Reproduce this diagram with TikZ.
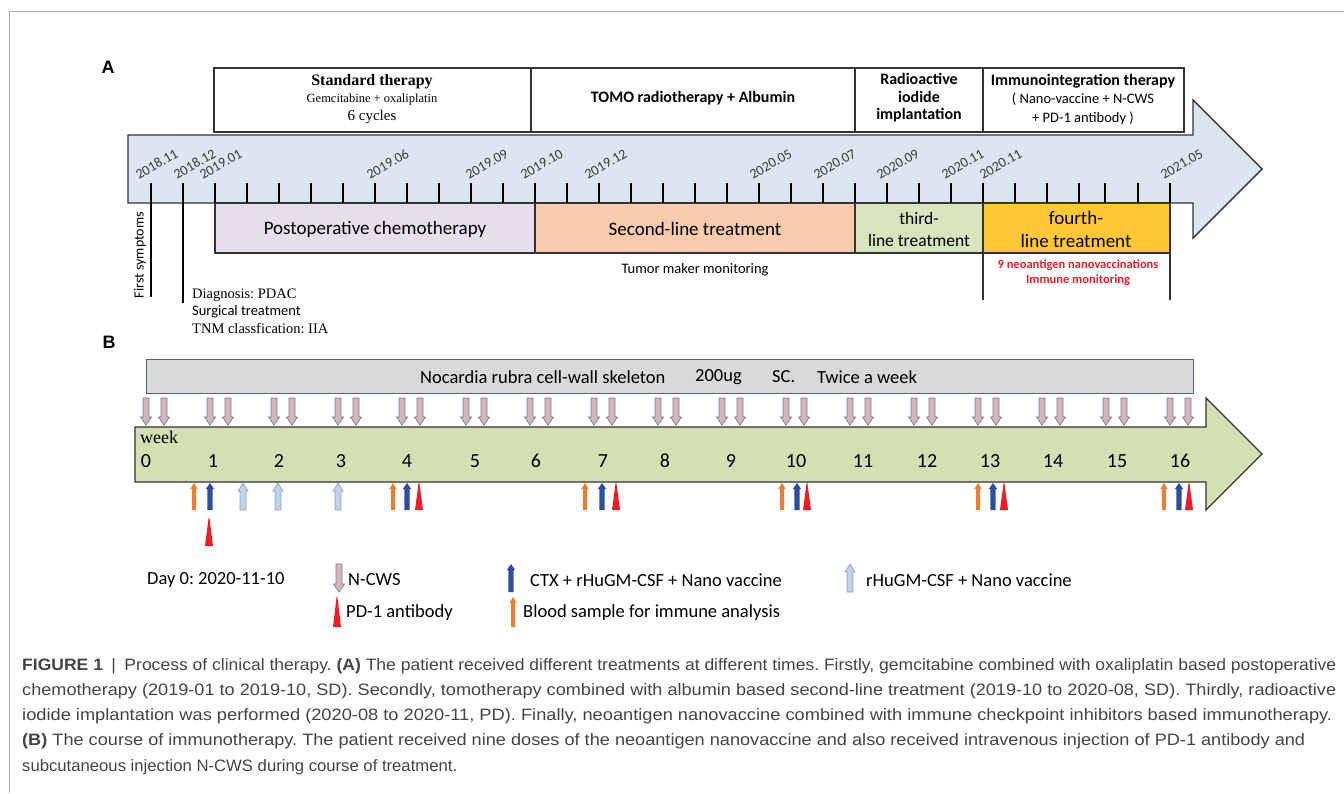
\documentclass[tikz,border=0pt]{standalone}
\usepackage{fontspec}
\usepackage{graphicx}
\setmainfont{Carlito}
\newfontfamily\tnr{Liberation Serif}
\newfontfamily\ari{Liberation Sans}
\newfontfamily\capf[FakeStretch=0.82]{Liberation Sans}
\newcommand\fsz[2]{\fontsize{#1}{#2}\selectfont}
\definecolor{tlblue}{HTML}{DCE6F1}
\definecolor{lav}{HTML}{E5DFEC}
\definecolor{peach}{HTML}{F8CBAD}
\definecolor{thirdg}{HTML}{D7E4BD}
\definecolor{gold}{HTML}{FFC936}
\definecolor{weekg}{HTML}{D4DFB4}
\definecolor{ncgray}{HTML}{D9D9D9}
\definecolor{ncedge}{HTML}{51627A}
\definecolor{cwsfill}{HTML}{D5B6BA}
\definecolor{cwsedge}{HTML}{6A7FA0}
\definecolor{lbfill}{HTML}{C0D3EA}
\definecolor{lbedge}{HTML}{8EA2BC}
\definecolor{orng}{HTML}{ED7D31}
\definecolor{dblue}{HTML}{2F4D9C}
\definecolor{pdred}{HTML}{EE1C25}
\definecolor{dgray}{HTML}{3A3A3A}
\definecolor{capgray}{HTML}{444444}
\definecolor{edge}{HTML}{333333}
% block arrows: style, x, tail y, tip y, shaft half, head half, head length
\newcommand\dnblk[7]{\draw[#1] (#2-#5,#3) -- (#2+#5,#3) -- (#2+#5,#4-#7) -- (#2+#6,#4-#7) -- (#2,#4) -- (#2-#6,#4-#7) -- (#2-#5,#4-#7) -- cycle;}
\newcommand\upblk[7]{\draw[#1] (#2-#5,#3) -- (#2+#5,#3) -- (#2+#5,#4+#7) -- (#2+#6,#4+#7) -- (#2,#4) -- (#2-#6,#4+#7) -- (#2-#5,#4+#7) -- cycle;}
\newcommand\redtri[3]{\fill[pdred] (#1-4,#2) -- (#1+4,#2) -- (#1+0.4,#3) -- (#1-0.4,#3) -- cycle;}
\tikzset{
  topbox/.style={draw=edge, line width=1.3pt, fill=white},
  band/.style={draw=edge, line width=1.1pt},
  tick/.style={draw=black, line width=1.4pt},
  datelbl/.style={rotate=30, anchor=south west, inner sep=0pt, font=\fsz{14}{16}, text=dgray},
  plain/.style={inner sep=0pt, align=center},
  cws/.style={fill=cwsfill, draw=cwsedge, line width=0.7pt},
  lbarr/.style={fill=lbfill, draw=lbedge, line width=0.7pt},
  orarr/.style={fill=orng, draw=none},
  blarr/.style={fill=dblue, draw=none},
  capline/.style={anchor=west, inner sep=0pt, font=\capf\fsz{16.5}{19}, text=capgray},
}
\begin{document}
\frenchspacing
\begin{tikzpicture}[x=1pt,y=-1pt]
\useasboundingbox (0,0) rectangle (1344,793);
\fill[white] (0,0) rectangle (1344,793);
\draw[color=black!32, line width=0.9pt] (9,793) -- (9,11) -- (1344,11);

% ---------------- Panel A ----------------
\node[plain, font=\ari\bfseries\fsz{18}{20}] (lblA) at (108,67) {A};

% timeline arrow
\draw[fill=tlblue, draw=edge, line width=1.4pt] (128,135) -- (1193,135) -- (1193,100) -- (1262,169) -- (1193,238) -- (1193,203) -- (128,203) -- cycle;

% top boxes
\draw[topbox] (214,68) rectangle (531,132);
\draw[topbox] (531,68) rectangle (855,132);
\draw[topbox] (855,68) rectangle (983,132);
\draw[topbox] (983,68) rectangle (1184,132);
\node[plain, font=\tnr\bfseries\fsz{16}{18}] (std1) at (372,82) {Standard therapy};
\node[plain, font=\tnr\fsz{12.5}{14}] (std2) at (372,99) {Gemcitabine + oxaliplatin};
\node[plain, font=\tnr\fsz{15}{17}] (std3) at (372,117) {6 cycles};
\node[plain, font=\bfseries\fsz{16}{18}] (tomo) at (693,98) {TOMO radiotherapy + Albumin};
\node[plain, font=\bfseries\fsz{16}{17.5}] (radio) at (919,98) {Radioactive\\iodide\\implantation};
\node[plain, font=\bfseries\fsz{16}{18}] (imm1) at (1083,81) {Immunointegration therapy};
\node[plain, font=\fsz{14.5}{16}] (imm2) at (1083,99) {( Nano-vaccine + N-CWS};
\node[plain, font=\fsz{14.5}{16}] (imm3) at (1083,118) {+ PD-1 antibody )};

% bands
\draw[band, fill=lav] (215,203) rectangle (535,253);
\draw[band, fill=peach] (535,203) rectangle (855,253);
\draw[band, fill=thirdg] (855,203) rectangle (983,253);
\draw[band, fill=gold] (983,203) rectangle (1170,253);
\node[plain, font=\fsz{19}{21}] (b1) at (375,229) {Postoperative chemotherapy};
\node[plain, font=\fsz{19}{21}] (b2) at (695,229) {Second-line treatment};
\node[plain, font=\fsz{17.5}{22.5}] (b3) at (919,229.5) {third-\\line treatment};
\node[plain, font=\fsz{19}{23}] (b4) at (1076,229.5) {fourth-\\line treatment};

% ticks
\foreach \x in {151,183,215,247,279,311,343,375,407,439,471,503,535,567,599,631,663,695,727,759,791,823,855,887,919,951,983,1015,1047,1079,1105,1138,1170}
  \draw[tick] (\x,183) -- (\x,203);
\foreach \x/\t in {139/2018.11,177/2018.12,203/2019.01,370/2019.06,469/2019.09,524/2019.10,588/2019.12,753/2020.05,817/2020.07,880/2020.09,945/2020.11,983/2020.11,1164/2021.05}
  \node[datelbl] (dl\x) at (\x,180) {\t};

% event lines
\coordinate (fsTop) at (151,183);
\coordinate (fsBot) at (151,297);
\coordinate (dgTop) at (183,183);
\coordinate (dgBot) at (183,303);
\draw[tick] (fsTop) -- (fsBot);
\draw[tick] (dgTop) -- (dgBot);
\coordinate (f4a) at (983,253);
\coordinate (f4b) at (983,300);
\coordinate (f4c) at (1170,253);
\coordinate (f4d) at (1170,300);
\draw[band] (f4a) -- (f4b);
\draw[band] (f4c) -- (f4d);

\node[plain, rotate=90, font=\fsz{14}{16}] (firstsym) at (140,255) {First symptoms};
\node[anchor=west, inner sep=0pt, font=\tnr\fsz{14.5}{16}] (diag1) at (192,295) {Diagnosis: PDAC};
\node[anchor=west, inner sep=0pt, font=\fsz{14.5}{16}] (diag2) at (192,312) {Surgical treatment};
\node[anchor=west, inner sep=0pt, font=\tnr\fsz{14.5}{16}] (diag3) at (192,328) {TNM classfication: IIA};
\node[plain, font=\fsz{14.5}{16}] (tumor) at (695,270) {Tumor maker monitoring};
\node[plain, font=\bfseries\fsz{12.5}{15}, text=pdred] (red1) at (1078,265) {9 neoantigen nanovaccinations};
\node[plain, font=\bfseries\fsz{12.5}{15}, text=pdred] (red2) at (1078,280) {Immune monitoring};

% ---------------- Panel B ----------------
\node[plain, font=\ari\bfseries\fsz{18}{20}] (lblB) at (109,342) {B};
\draw[fill=ncgray, draw=ncedge, line width=1pt] (146,359) rectangle (1193,393);
\node[anchor=west, inner sep=0pt, font=\fsz{18.5}{20}] (nc1) at (420,377) {Nocardia rubra cell-wall skeleton};
\node[anchor=west, inner sep=0pt, font=\fsz{18.5}{20}] (nc2) at (695,377) {200ug};
\node[anchor=west, inner sep=0pt, font=\fsz{18.5}{20}] (nc3) at (772,377) {SC.};
\node[anchor=west, inner sep=0pt, font=\fsz{18.5}{20}] (nc4) at (817,377) {Twice a week};

% week arrow
\draw[fill=weekg, draw=edge, line width=1.3pt] (135,427) -- (1206,427) -- (1206,398) -- (1262,454) -- (1206,510) -- (1206,482) -- (135,482) -- cycle;
\node[anchor=west, inner sep=0pt, font=\tnr\fsz{18}{20}] (week) at (140,437) {week};
\foreach \x/\n in {146/0,213/1,279/2,341/3,407/4,475/5,536/6,603/7,665/8,731/9,796/10,863/11,927/12,990/13,1053/14,1117/15,1180/16}
  \node[plain, font=\fsz{20}{22}] (w\n) at (\x,461) {\n};

% N-CWS arrows
\foreach \x in {146,210,274,338,402,466,530,594,658,722,786,850,914,978,1042,1106,1170}{
  \dnblk{cws}{\x}{398}{425}{3}{5.5}{8}
  \dnblk{cws}{\x+18}{398}{425}{3}{5.5}{8}
}

% treatment arrows below
\foreach \o/\b in {194/210,393/407,585/602,782/797,978/993,1164/1179}{
  \upblk{orarr}{\o}{510}{483}{2}{3.6}{6}
  \upblk{blarr}{\b}{510}{483}{2.6}{4.2}{6}
}
\foreach \r in {419,616,807,1004,1189}{\redtri{\r}{510}{483}}
\redtri{209}{546}{518}
\foreach \x in {243,278,338}{\upblk{lbarr}{\x}{510}{483}{3}{5}{8}}

% legend
\node[anchor=west, inner sep=0pt, font=\fsz{18.5}{20}] (day0) at (147,580) {Day 0: 2020-11-10};
\dnblk{cws}{339}{564}{592}{3}{5.5}{8}
\node[anchor=west, inner sep=0pt, font=\fsz{18.5}{20}] (lgcws) at (348,580) {N-CWS};
\upblk{blarr}{511}{592}{564}{2.6}{4.2}{6}
\node[anchor=west, inner sep=0pt, font=\fsz{18.5}{20}] (lgctx) at (530,580) {CTX + rHuGM-CSF + Nano vaccine};
\upblk{lbarr}{850}{592}{564}{3}{5}{8}
\node[anchor=west, inner sep=0pt, font=\fsz{18.5}{20}] (lglb) at (866,580) {rHuGM-CSF + Nano vaccine};
\redtri{337}{627}{597}
\node[anchor=west, inner sep=0pt, font=\fsz{18.5}{20}] (lgpd) at (346,613) {PD-1 antibody};
\upblk{orarr}{513}{627}{597}{2}{3.6}{6}
\node[anchor=west, inner sep=0pt, font=\fsz{18.5}{20}] (lgbl) at (523,613) {Blood sample for immune analysis};

% ---------------- Caption ----------------
\node[capline] (cap1) at (22,666) {\resizebox{1314pt}{\height}{\textbf{FIGURE 1} \,|\, Process of clinical therapy. \textbf{(A)} The patient received different treatments at different times. Firstly, gemcitabine combined with oxaliplatin based postoperative}};
\node[capline] (cap2) at (22,691) {\resizebox{1314pt}{\height}{chemotherapy (2019-01 to 2019-10, SD). Secondly, tomotherapy combined with albumin based second-line treatment (2019-10 to 2020-08, SD). Thirdly, radioactive}};
\node[capline] (cap3) at (22,716) {\resizebox{1310pt}{\height}{iodide implantation was performed (2020-08 to 2020-11, PD). Finally, neoantigen nanovaccine combined with immune checkpoint inhibitors based immunotherapy.}};
\node[capline] (cap4) at (22,741) {\resizebox{1283pt}{\height}{\textbf{(B)} The course of immunotherapy. The patient received nine doses of the neoantigen nanovaccine and also received intravenous injection of PD-1 antibody and}};
\node[capline] (cap5) at (22,767) {\resizebox{435pt}{\height}{subcutaneous injection N-CWS during course of treatment.}};
\end{tikzpicture}
\end{document}
